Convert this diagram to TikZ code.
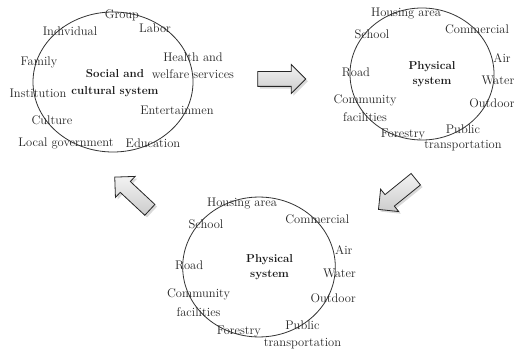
\documentclass[tikz,border=0pt]{standalone}
\usepackage{tikz}
\usetikzlibrary{shapes.arrows,shadows}

\tikzset{
  lbl/.style={text=black!85, font=\fontsize{12.5}{14}\selectfont, inner sep=0pt},
  sysname/.style={text=black!90, font=\fontsize{11.5}{14}\selectfont\bfseries, inner sep=0pt},
  sysring/.style={draw=black!80, line width=0.8pt},
  flow/.style={single arrow, draw=black!85, line width=0.8pt,
    top color=gray!10, bottom color=gray!40,
    inner sep=7pt, single arrow head extend=7pt, single arrow head indent=0pt,
    minimum height=48pt, drop shadow={opacity=0.3}}
}

% one physical system ring, #1 = prefix for node names
\newcommand{\physsys}[1]{%
  \draw[sysring] (0,0) ellipse [x radius=72, y radius=66];
  \node[lbl] (#1-housing) at (-16,-60) {Housing area};
  \node[lbl] (#1-school) at (-50,-40) {School};
  \node[lbl] (#1-comm) at (55,-45) {Commercial};
  \node[lbl] (#1-air) at (80,-16) {Air};
  \node[lbl] (#1-road) at (-66,-2) {Road};
  \node[sysname] (#1-name1) at (10,-7) {Physical};
  \node[sysname] (#1-name2) at (10,8) {system};
  \node[lbl] (#1-water) at (76,6) {Water};
  \node[lbl] (#1-cf1) at (-57,26) {Community};
  \node[lbl] (#1-cf2) at (-57,43) {facilities};
  \node[lbl] (#1-outdoor) at (70,29) {Outdoor};
  \node[lbl] (#1-pt1) at (41,55) {Public};
  \node[lbl] (#1-forest) at (-19,61) {Forestry};
  \node[lbl] (#1-pt2) at (41,72) {transportation};
}

\begin{document}
\begin{tikzpicture}[x=1pt,y=-1pt]
\useasboundingbox (0,0) rectangle (514,350);
% social and cultural system
\begin{scope}[shift={(113,82)}]
    \draw[sysring] (0,0) ellipse [x radius=80, y radius=70];
\end{scope}
\node[lbl] (group) at (122,15) {Group};
\node[lbl] (indiv) at (70,31) {Individual};
\node[lbl] (labor) at (155,28) {Labor};
\node[lbl] (health1) at (193,57) {Health and};
\node[lbl] (family) at (39,62) {Family};
\node[sysname] (social1) at (115,74) {Social and};
\node[lbl] (health2) at (193,74) {welfare services};
\node[lbl] (inst) at (38,93) {Institution};
\node[sysname] (social2) at (115,92) {cultural system};
\node[lbl] (enter) at (177,110) {Entertainmen};
\node[lbl] (culture) at (52,120) {Culture};
\node[lbl] (localgov) at (66,143) {Local government};
\node[lbl] (edu) at (153,143) {Education};
% physical systems
\begin{scope}[shift={(422,74)}]
    \physsys{phA}
\end{scope}
\begin{scope}[shift={(259,267)},scale=1.06]
    \physsys{phB}
\end{scope}
% flow arrows
\node[flow] (toPhys) at (278,79) {};
\node[flow, rotate=219] (toPlan) at (400,192) {};
\node[flow, rotate=137] (toSoc) at (135,196) {};
\end{tikzpicture}
\end{document}
